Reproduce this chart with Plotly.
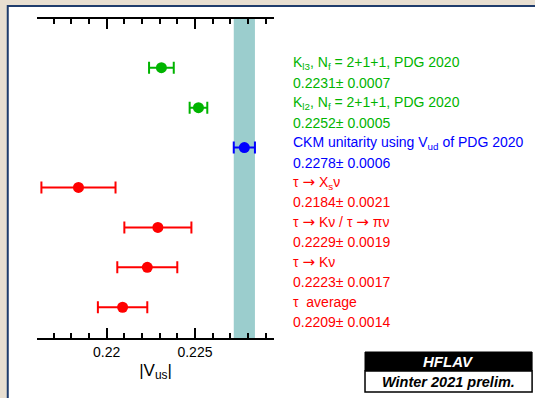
import plotly.graph_objects as go

ARW = '<span style="font-family:DejaVu Sans;font-size:15px">→</span>'

labels = [
    "K<sub>l3</sub>, N<sub>f</sub> = 2+1+1, PDG 2020",
    "K<sub>l2</sub>, N<sub>f</sub> = 2+1+1, PDG 2020",
    "CKM unitarity using V<sub>ud</sub> of PDG 2020",
    f"τ {ARW} X<sub>s</sub>ν",
    f"τ {ARW} Kν / τ {ARW} πν",
    f"τ {ARW} Kν",
    "τ  average",
]
values = [0.2231, 0.2252, 0.2278, 0.2184, 0.2229, 0.2223, 0.2209]
errors = [0.0007, 0.0005, 0.0006, 0.0021, 0.0019, 0.0017, 0.0014]
colors = ["#00b400", "#00b400", "#0000ff", "#ff0000", "#ff0000", "#ff0000", "#ff0000"]
rows = [7, 6, 5, 4, 3, 2, 1]

band_center = 0.2278
band_err = 0.0006

FONT = "Liberation Sans, Arial, sans-serif"

fig = go.Figure()

for v, e, c, r in zip(values, errors, colors, rows):
    fig.add_trace(go.Scatter(
        x=[v], y=[r], mode="markers",
        marker=dict(color=c, size=11),
        error_x=dict(type="data", array=[e], color=c, thickness=2, width=6),
        showlegend=False, hoverinfo="skip",
    ))

# dummy trace for top axis
fig.add_trace(go.Scatter(x=[values[0]], y=[rows[0]], xaxis="x2", mode="markers",
                         marker=dict(opacity=0), showlegend=False, hoverinfo="skip"))

annotations = []
for lab, v, e, c, r in zip(labels, values, errors, colors, rows):
    annotations.append(dict(x=1.0717, xref="paper", y=r + 0.125, yref="y", text=lab,
                            showarrow=False, xanchor="left", yanchor="middle",
                            font=dict(family=FONT, size=14, color=c)))
    annotations.append(dict(x=1.0717, xref="paper", y=r - 0.375, yref="y",
                            text=f"{v:.4f}± {e:.4f}",
                            showarrow=False, xanchor="left", yanchor="middle",
                            font=dict(family=FONT, size=14, color=c)))

# HFLAV logo texts
annotations.append(dict(x=1.736, xref="paper", y=-0.0737, yref="paper", text="<b><i>HFLAV</i></b>",
                        showarrow=False, xanchor="center", yanchor="middle",
                        font=dict(family=FONT, size=15, color="white")))
annotations.append(dict(x=1.736, xref="paper", y=-0.1364, yref="paper", text="<b><i>Winter 2021 prelim.</i></b>",
                        showarrow=False, xanchor="center", yanchor="middle",
                        font=dict(family=FONT, size=14.5, color="black")))

shapes = [
    # white panel with dark blue border
    dict(type="rect", xref="paper", yref="paper", x0=-0.1234, x1=2.2, y0=-0.25, y1=1.0407,
         fillcolor="white", line=dict(color="#1f3c6c", width=2), layer="below"),
    # band
    dict(type="rect", xref="x", yref="paper", x0=band_center - band_err, x1=band_center + band_err,
         y0=0, y1=1, fillcolor="#9bcdcd", line=dict(width=0), layer="below"),
    # HFLAV boxes
    dict(type="rect", xref="paper", yref="paper", x0=1.384, x1=2.089, y0=-0.1034, y1=-0.0439,
         fillcolor="black", line=dict(color="black", width=1)),
    dict(type="rect", xref="paper", yref="paper", x0=1.384, x1=2.089, y0=-0.1693, y1=-0.1034,
         fillcolor="white", line=dict(color="black", width=1.5)),
]

axis_common = dict(
    range=[0.21605, 0.22948], showline=True, linecolor="black", linewidth=2,
    ticks="inside", ticklen=10, tickwidth=2, tickcolor="black",
    tickvals=[0.22, 0.225], showgrid=False, zeroline=False,
    minor=dict(ticks="inside", ticklen=5, tickwidth=2, tickcolor="black", dtick=0.001, tick0=0.22),
)

fig.update_layout(
    width=535, height=398,
    margin=dict(l=37, r=261, t=19, b=60),
    paper_bgcolor="#e8dfd1",
    plot_bgcolor="rgba(0,0,0,0)",
    font=dict(family=FONT, size=14, color="black"),
    xaxis=dict(**axis_common, ticktext=["0.22", "0.225"],
               tickfont=dict(family=FONT, size=14),
               title=dict(text="|V<sub>us</sub>|", font=dict(family=FONT, size=17), standoff=5)),
    xaxis2=dict(**axis_common, overlaying="x", side="top", showticklabels=False, matches="x"),
    yaxis=dict(visible=False, range=[0.23, 8.22]),
    shapes=shapes,
    annotations=annotations,
)

fig.write_html("out.html")
